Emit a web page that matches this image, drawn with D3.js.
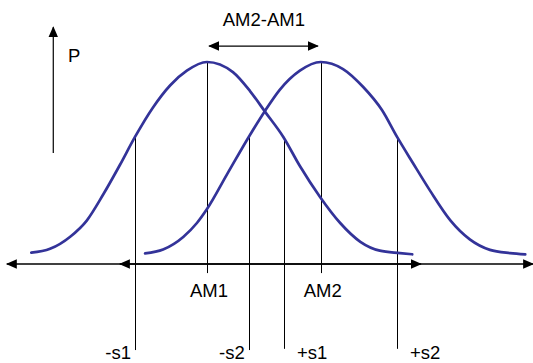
<!DOCTYPE html>
<html>
<head>
<meta charset="utf-8">
<script src="https://cdn.jsdelivr.net/npm/d3@7"></script>
<style>
  html, body { margin: 0; padding: 0; background: #fff; }
  svg { display: block; }
  text { font-family: "Liberation Sans", Arial, sans-serif; font-size: 18.5px; fill: #000; }
</style>
</head>
<body>
<div id="chart"></div>
<script>
// values: x in units of s (AM1 = 0), P relative to the peak

var curve1X = [-2.44, -2.18, -1.90, -1.67, -1.44, -1.21, -1.00, -0.75, -0.51, -0.28, 0.00,
               0.36, 0.60, 0.81, 1.06, 1.29, 1.57, 1.85, 2.13, 2.40, 2.68, 2.85];
var curve1P = [0.056, 0.075, 0.135, 0.215, 0.345, 0.490, 0.629, 0.775, 0.885, 0.957, 1.000,
               0.950, 0.855, 0.752, 0.629, 0.485, 0.332, 0.203, 0.110, 0.066, 0.054, 0.048];

var curve2X = [-0.86, -0.61, -0.33, -0.14, 0.00, 0.28, 0.58, 0.81, 1.01, 1.29, 1.58,
               1.89, 2.17, 2.43, 2.64, 2.86, 3.10, 3.38, 3.65, 3.93, 4.21, 4.42];
var curve2P = [0.053, 0.072, 0.134, 0.203, 0.272, 0.445, 0.629, 0.760, 0.862, 0.957, 1.000,
               0.965, 0.876, 0.762, 0.629, 0.500, 0.362, 0.216, 0.122, 0.070, 0.054, 0.048];

// vertical markers
var markerNames = ['AM1', 'AM2', '-s1', '-s2', '+s1', '+s2'];
var markerX     = [0.00, 1.58, -1.00, 0.58, 1.07, 2.64];
var markerTop   = [1.00, 1.00, 0.629, 0.629, 0.629, 0.629];
var markerBot   = [-0.045, -0.045, -0.426, -0.426, -0.42, -0.42];

// two double-arrow x axes, one per distribution
var axisFrom = [-2.78, -1.21];
var axisTo   = [2.97, 4.53];

var width = 533, height = 363;

var x = d3.scaleLinear().domain([-2.875, 4.528]).range([0, width]);
var y = d3.scaleLinear().domain([0, 1]).range([264, 62]);

var svg = d3.select('#chart').append('svg')
  .attr('width', width)
  .attr('height', height);

var defs = svg.append('defs');
function arrowMarker(id, orient) {
  defs.append('marker')
    .attr('id', id)
    .attr('viewBox', '0 -5 11 10')
    .attr('refX', 10)
    .attr('refY', 0)
    .attr('markerUnits', 'userSpaceOnUse')
    .attr('markerWidth', 11)
    .attr('markerHeight', 10)
    .attr('orient', orient)
    .append('path')
    .attr('d', 'M0,-4.8L11,0L0,4.8Z')
    .attr('fill', '#000');
}
arrowMarker('arrow', 'auto');
arrowMarker('arrow-start', 'auto-start-reverse');

// axes
svg.selectAll('.axis-line')
  .data(axisFrom)
  .enter().append('line')
  .attr('class', 'axis-line')
  .attr('x1', function(d) { return x(d); })
  .attr('x2', function(d, i) { return x(axisTo[i]); })
  .attr('y1', y(0))
  .attr('y2', y(0))
  .attr('stroke', '#000')
  .attr('stroke-width', 1.5)
  .attr('marker-start', 'url(#arrow-start)')
  .attr('marker-end', 'url(#arrow)');

// P arrow
svg.append('line')
  .attr('x1', x(-2.135)).attr('x2', x(-2.135))
  .attr('y1', y(0.55)).attr('y2', y(1.172))
  .attr('stroke', '#000')
  .attr('stroke-width', 1.2)
  .attr('marker-end', 'url(#arrow)');

svg.append('text')
  .attr('x', x(-1.93))
  .attr('y', y(1.0))
  .text('P');

// AM2-AM1 arrow
svg.append('line')
  .attr('x1', x(0.03)).attr('x2', x(1.54))
  .attr('y1', y(1.079)).attr('y2', y(1.079))
  .attr('stroke', '#000')
  .attr('stroke-width', 1.2)
  .attr('marker-start', 'url(#arrow-start)')
  .attr('marker-end', 'url(#arrow)');

svg.append('text')
  .attr('x', x(0.79))
  .attr('y', 26)
  .attr('text-anchor', 'middle')
  .text('AM2-AM1');

// vertical marker lines
svg.selectAll('.marker')
  .data(markerX)
  .enter().append('line')
  .attr('class', 'marker')
  .attr('x1', function(d) { return Math.round(x(d)) + 0.5; })
  .attr('x2', function(d) { return Math.round(x(d)) + 0.5; })
  .attr('y1', function(d, i) { return y(markerTop[i]); })
  .attr('y2', function(d, i) { return y(markerBot[i]); })
  .attr('stroke', '#000')
  .attr('stroke-width', 1);

// curves
var line = d3.line()
  .x(function(d) { return x(d[0]); })
  .y(function(d) { return y(d[1]); })
  .curve(d3.curveMonotoneX);

[[curve1X, curve1P], [curve2X, curve2P]].forEach(function(c) {
  svg.append('path')
    .datum(d3.zip(c[0], c[1]))
    .attr('d', line)
    .attr('fill', 'none')
    .attr('stroke', '#333399')
    .attr('stroke-width', 2.7)
    .attr('stroke-linecap', 'round');
});

// labels
var labelY = [297, 297, 359, 359, 359, 359];
svg.selectAll('.marker-label')
  .data(markerNames)
  .enter().append('text')
  .attr('class', 'marker-label')
  .attr('x', function(d, i) {
    if (i < 2) return x(markerX[i]) + 2;
    if (d[0] === '-') return x(markerX[i]) - 4;
    return x(markerX[i]) + 13;
  })
  .attr('y', function(d, i) { return labelY[i]; })
  .attr('text-anchor', function(d, i) {
    if (i < 2) return 'middle';
    return d[0] === '-' ? 'end' : 'start';
  })
  .text(function(d) { return d; });
</script>
</body>
</html>
